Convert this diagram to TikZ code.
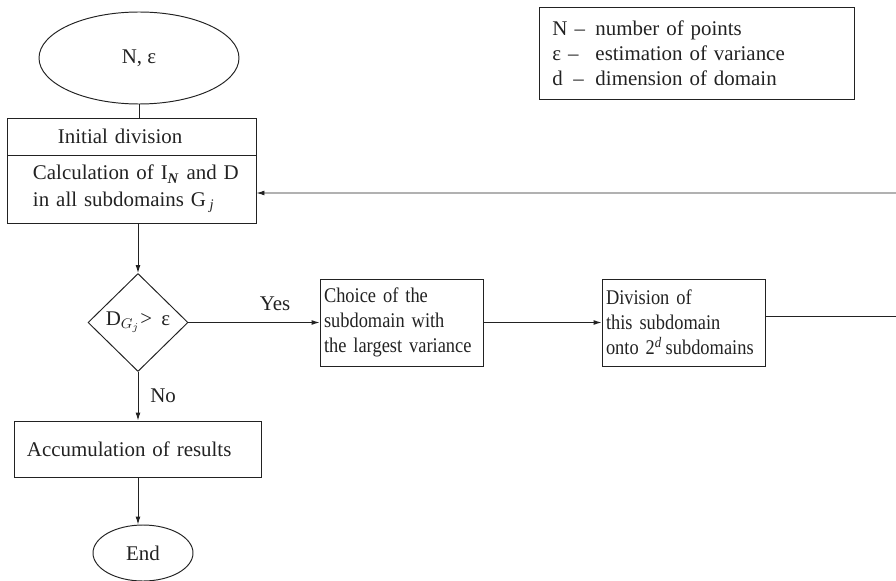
\documentclass[tikz,border=0pt]{standalone}
\usepackage{fontspec}
\setmainfont{Liberation Serif}
\newfontfamily\narrowserif[FakeStretch=0.88]{Liberation Serif}
\usetikzlibrary{positioning, arrows.meta, shapes.geometric, calc}
\definecolor{Ink}{HTML}{222222}

\begin{document}
\begin{tikzpicture}[
    x=0.2mm, y=-0.2mm,
    term/.style={draw=Ink, line width=0.55pt, ellipse, inner sep=0pt},
    box/.style={draw=Ink, line width=0.55pt, rectangle, inner sep=0pt, align=left},
    act/.style={box, font=\fontsize{11.9}{14.2}\narrowserif, minimum height=17.4mm, text width=31mm, inner xsep=0.8mm},
    test/.style={draw=Ink, line width=0.55pt, diamond, inner sep=0pt, minimum width=20mm, minimum height=19.6mm},
    arr/.style={-{Latex[length=1.6mm, width=1mm]}, line width=0.55pt, Ink},
    every node/.style={font=\fontsize{11.9}{14.2}\selectfont, text=Ink}
]
\useasboundingbox (0,0) rectangle (896,581);

% Start and first block
\node[term, minimum width=40mm, minimum height=18.4mm] (start) at (139,58) {N, ε};
\node[box, minimum height=7.4mm, text width=29.4mm, inner xsep=10.2mm] (init) at (131.5,136.5) {Initial division};
\node[box, minimum height=13.6mm, text width=44.2mm, inner xsep=2.8mm] (calc) at (131.5,189) {\hspace{2.4mm}Calculation of I\textsubscript{\textbf{\textit{N}}} and D\\[1pt]\hspace{2.4mm}in all subdomains G\,\textsubscript{\textit{j}}};

% Test
\node[test] (dec) at (138,322.5) {D$_{G_j}$>\hspace{0.45em}ε};

% Yes branch
\node[act] (choice) at (401.5,322.5) {Choice of the\\subdomain with\\the largest variance};
\node[act] (divide) at (683.5,322.5) {Division of\\this subdomain\\onto 2\textsuperscript{\textit{d}}\,subdomains};

% No branch
\node[box, minimum height=11.2mm, text width=44.2mm, inner xsep=2.6mm] (accum) at (137.5,449) {Accumulation of results};
\node[term, minimum width=20mm, minimum height=11.2mm] (stop) at (143,553) {End};

% Legend
\node[box, anchor=north west, minimum height=18.4mm, text width=57.8mm, inner xsep=2.6mm] (legend) at (539,7) {\makebox[8.6mm][l]{N –}number of points\\\makebox[8.6mm][l]{ε –}estimation of variance\\\makebox[8.6mm][l]{d \,–}dimension of domain};

% Connectors
\draw[Ink, line width=0.55pt] (start.south) -- (start.south |- init.north);
\draw[arr] (calc.south -| dec.north) -- (dec.north);
\draw[arr] (dec.east) -- node[pos=0.66, above=1mm] {Yes} (choice.west);
\draw[arr] (choice.east) -- (divide.west);
\draw[arr] (dec.south) -- node[right=1.2mm] {No} (dec.south |- accum.north);
\draw[arr] (accum.south -| dec.south) -- (stop.north -| dec.south);

% Back to calculation
\coordinate (back) at (906,316.5);
\draw[arr] ([yshift=1.2mm]divide.east) -- (back) |- ([yshift=-0.8mm]calc.east);

\end{tikzpicture}
\end{document}
